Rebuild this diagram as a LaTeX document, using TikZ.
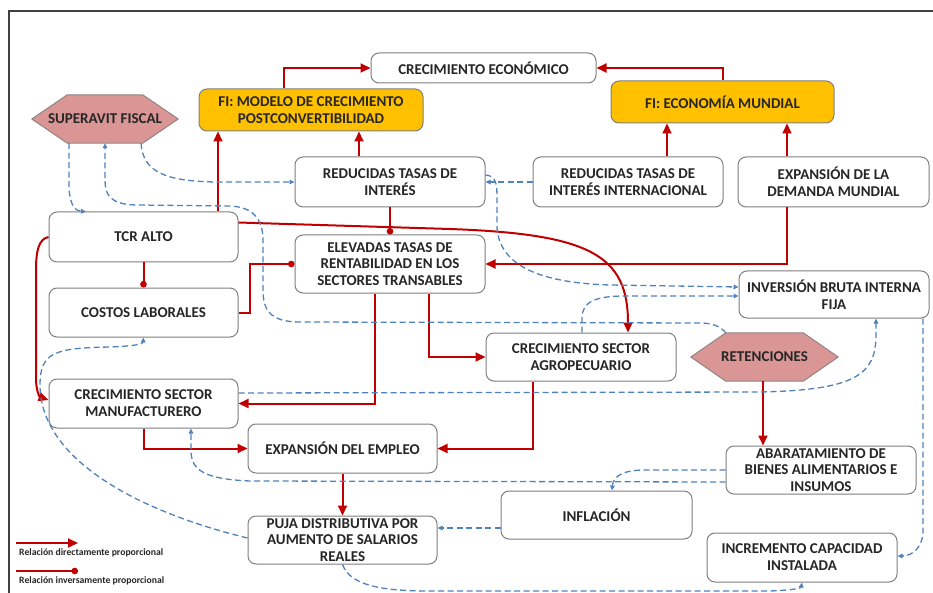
\documentclass[tikz,border=0pt]{standalone}
\usepackage{fontspec}
\setmainfont{Carlito}
\usetikzlibrary{arrows.meta,backgrounds,calc}
\definecolor{dred}{HTML}{C00000}
\definecolor{dblue}{HTML}{4F81BD}
\definecolor{bgray}{HTML}{7F7F7F}
\definecolor{txt}{HTML}{262626}
\definecolor{fiy}{HTML}{FFC000}
\definecolor{hexf}{HTML}{D99694}
\tikzset{
  box/.style={draw=bgray, line width=1pt, rounded corners=8pt, fill=white, align=center,
    inner sep=0pt, text=txt, font=\fontsize{15}{16.8}\selectfont\bfseries},
  fibox/.style={box, fill=fiy},
  sz/.style 2 args={minimum width=#1pt, minimum height=#2pt},
  hexnode/.style={align=center, inner sep=0pt, text=txt, font=\fontsize{15}{16.8}\selectfont\bfseries},
  hexshape/.style={draw=bgray!80!hexf, line width=1pt, fill=hexf},
  rarr/.style={draw=dred, line width=2pt, -{Triangle[length=10pt,width=9pt]}},
  rdot/.style={draw=dred, line width=2pt, -{Circle[length=6.5pt]}},
  barr/.style={draw=dblue, line width=1.3pt, dash pattern=on 6pt off 3.5pt, -{Triangle[length=5pt,width=4.5pt]}},
  legtext/.style={anchor=west, inner sep=0pt, text=txt, font=\fontsize{9.7}{11}\selectfont\bfseries},
}
\begin{document}
\begin{tikzpicture}[x=1pt, y=-1pt]
\useasboundingbox (0,0) rectangle (933,593);
% frame
\draw[line width=1.5pt, draw=black!75] (9,593) -- (9,11) -- (933,11);

% nodes
\node[box, sz={225}{30}] (ce) at (483.5,68) {CRECIMIENTO ECONÓMICO};
\node[fibox, sz={224}{42}] (fimod) at (311,110) {FI: MODELO DE CRECIMIENTO\\POSTCONVERTIBILIDAD};
\node[fibox, sz={223}{42}] (fimun) at (722.5,102) {FI: ECONOMÍA MUNDIAL};
\node[hexnode, sz={146}{48}] (sup) at (105,119) {SUPERAVIT FISCAL};
\node[box, sz={190}{50}] (rti) at (390,182) {REDUCIDAS TASAS DE\\INTERÉS};
\node[box, sz={190}{50}] (rtii) at (628,182) {REDUCIDAS TASAS DE\\INTERÉS INTERNACIONAL};
\node[box, sz={191}{50}] (edm) at (833.5,182) {EXPANSIÓN DE LA\\DEMANDA MUNDIAL};
\node[box, sz={189}{50}] (tcr) at (143.5,237) {TCR ALTO};
\node[box, sz={190}{58}] (etr) at (390,264) {ELEVADAS TASAS DE\\RENTABILIDAD EN LOS\\SECTORES TRANSABLES};
\node[box, sz={189}{49}] (cl) at (143.5,312.5) {COSTOS LABORALES};
\node[box, sz={190}{47}] (ibf) at (834,294.5) {INVERSIÓN BRUTA INTERNA\\FIJA};
\node[box, sz={190}{48}] (agro) at (581,357) {CRECIMIENTO SECTOR\\AGROPECUARIO};
\node[hexnode, sz={147}{48}] (ret) at (764.5,357) {RETENCIONES};
\node[box, sz={189}{49}] (manu) at (143.5,403.5) {CRECIMIENTO SECTOR\\MANUFACTURERO};
\node[box, sz={189}{49}] (emp) at (342.5,448.5) {EXPANSIÓN DEL EMPLEO};
\node[box, sz={190}{48}] (aba) at (821,470) {ABARATAMIENTO DE\\BIENES ALIMENTARIOS E\\INSUMOS};
\node[box, sz={191}{48}] (inf) at (596.5,515) {INFLACIÓN};
\node[box, sz={189}{48}] (puja) at (342.5,540) {PUJA DISTRIBUTIVA POR\\AUMENTO DE SALARIOS\\REALES};
\node[box, sz={190}{49}] (inc) at (802,557.5) {INCREMENTO CAPACIDAD\\INSTALADA};

\begin{scope}[on background layer]
\draw[hexshape] (sup.west) -- ([xshift=35.5pt]sup.north west) -- ([xshift=-35.5pt]sup.north east) -- (sup.east)
  -- ([xshift=-35.5pt]sup.south east) -- ([xshift=35.5pt]sup.south west) -- cycle;
\draw[hexshape] (ret.west) -- ([xshift=35pt]ret.north west) -- ([xshift=-35pt]ret.north east) -- (ret.east)
  -- ([xshift=-35pt]ret.south east) -- ([xshift=35pt]ret.south west) -- cycle;
\end{scope}

% red connectors
\draw[rarr] ([xshift=-27pt]fimod.north) |- (ce.west);
\draw[rarr] (fimun.north) |- (ce.east);
\draw[rarr] ([xshift=74.5pt]tcr.north) -- ([xshift=74.5pt]tcr.north |- fimod.south);
\draw[rarr] ([xshift=-31pt]rti.north) -- ([xshift=-31pt]rti.north |- fimod.south);
\draw[rarr] ([xshift=39pt]rtii.north) -- ([xshift=39pt]rtii.north |- fimun.south);
\draw[rarr] ([xshift=-46.5pt]edm.north) -- ([xshift=-46.5pt]edm.north |- fimun.south);
\draw[rdot] (rti.south) -- (etr.north);
\draw[rarr] ([yshift=-11pt]tcr.north east) -- (450,229) .. controls (590,234) and (628,255) .. ([xshift=47pt]agro.north);
\draw[rdot] (tcr.south) -- (cl.north);
\draw[rdot] (cl.east) -- ++(11,0) |- (etr.west);
\draw[rarr] (tcr.west) .. controls (39,239) and (36,250) .. (36,270) -- (36,378) .. controls (36,392) and (40,397) .. ([yshift=3.5pt]manu.west);
\draw[rarr] ([xshift=-46.5pt]edm.south) |- (etr.east);
\draw[rarr] ([xshift=-15pt]etr.south) |- (manu.east);
\draw[rarr] ([xshift=39pt]etr.south) |- (agro.west);
\draw[rarr] (manu.south) |- (emp.west);
\draw[rarr] ([xshift=-48pt]agro.south) |- (emp.east);
\draw[rarr] (emp.south) -- (puja.north);
\draw[rarr] ([xshift=-1.5pt]ret.south) -- ([xshift=-1.5pt]ret.south |- aba.north);

% blue dashed connectors
\draw[barr] ([xshift=-36pt]sup.south) -- (69,188) .. controls (70,205) and (75,211) .. ([xshift=-57.5pt]tcr.north);
\draw[barr] ([xshift=36pt]sup.south) .. controls (143,172) and (165,181) .. (215,182) -- (rti.west);
\draw[barr] ([xshift=35pt]ret.north west) .. controls (720,326) and (712,323) .. (700,323) -- (300,322)
  .. controls (270,322) and (263,310) .. (263,290) -- (263,240) .. controls (263,218) and (252,207) .. (230,206)
  -- (135,205) .. controls (110,204) and (105,195) .. (105,180) -- (sup.south);
\draw[barr] (rtii.west) -- (rti.east);
\draw[barr] ([yshift=7pt]rti.east) .. controls (497,176) and (497,185) .. (497,200) -- (497,228)
  .. controls (500,268) and (545,283) .. (610,285) -- ([yshift=7.5pt]ibf.west);
\draw[barr] ([xshift=1pt]agro.north) -- (582,318) .. controls (582,302) and (595,296) .. (625,296) -- ([yshift=-1.5pt]ibf.west);
\draw[barr] ([yshift=10.5pt]manu.east) -- (760,392) .. controls (855,390) and (876,375) .. (876,335) -- ([xshift=42pt]ibf.south);
\draw[barr] ([xshift=89pt]ibf.south) -- (923,530) .. controls (923,548) and (912,556) .. ([yshift=1.5pt]inc.east);
\draw[barr] (puja.south) .. controls (350,585) and (380,591) .. (430,591) -- (770,591) .. controls (795,590) and (801,588) .. (inc.south);
\draw[barr] ([yshift=-12pt]aba.west) -- (250,481) .. controls (200,479) and (191,468) .. (191,450) -- ([xshift=47.5pt]manu.south);
\draw[barr] (aba.west) -- (645,470) .. controls (620,470) and (613,478) .. ([xshift=15.5pt]inf.north);
\draw[barr] ([yshift=-13pt]inf.west) -- ([yshift=-13pt]inf.west -| puja.east);
\draw[barr] ([yshift=2pt]puja.west) .. controls (140,512) and (40,460) .. (40,385) .. controls (40,352) and (55,348) .. (110,347)
  .. controls (135,346) and (143,344) .. (cl.south);

% legend
\coordinate (la1) at (16,543);
\coordinate (la2) at (78,543);
\coordinate (lb1) at (16,571);
\coordinate (lb2) at (78,571);
\draw[rarr] (la1) -- (la2);
\draw[rdot] (lb1) -- (lb2);
\node[legtext] (lt1) at (19,553) {Relación directamente proporcional};
\node[legtext] (lt2) at (19,581) {Relación inversamente proporcional};
\end{tikzpicture}
\end{document}
